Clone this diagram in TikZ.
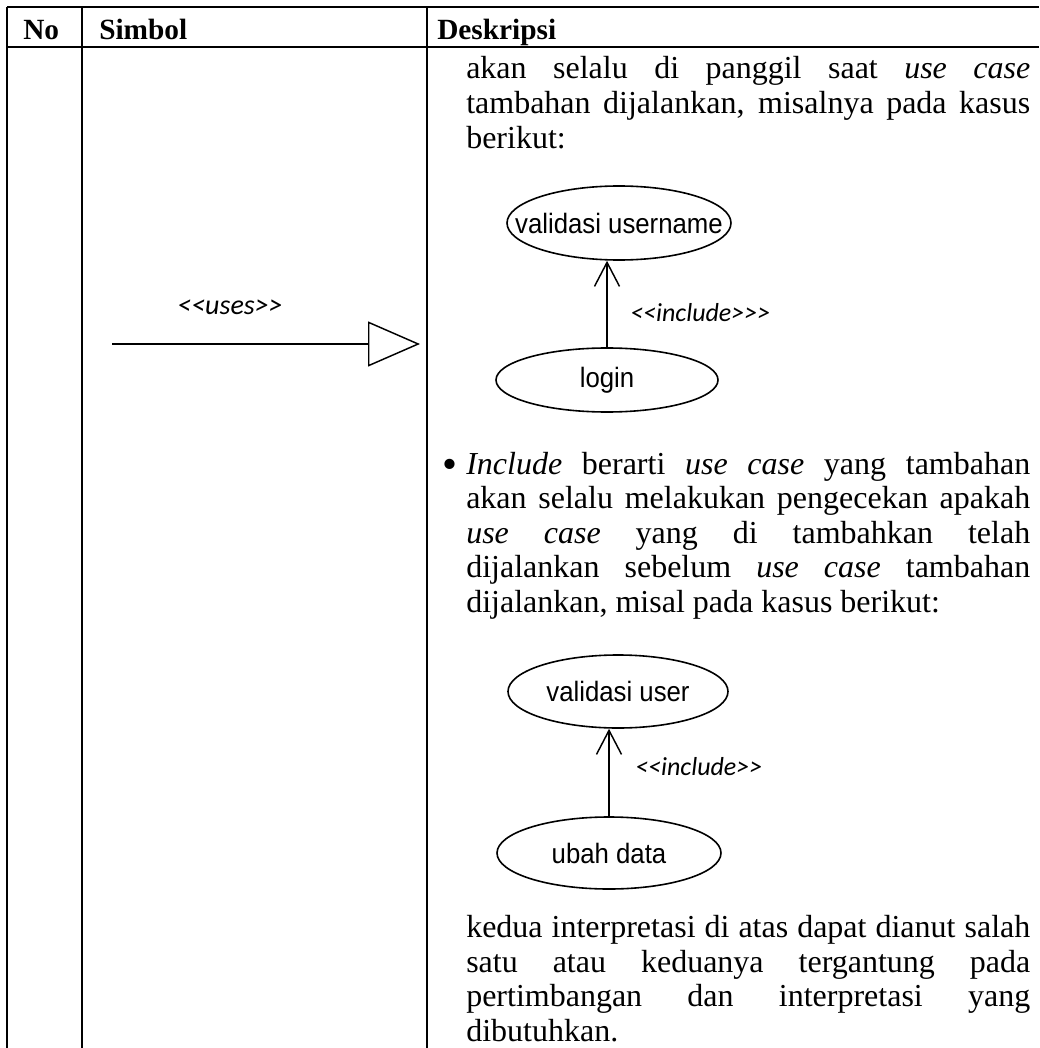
\documentclass[tikz,border=0pt]{standalone}
\usepackage{fontspec}
\setmainfont{Liberation Serif}
\newfontfamily\casefont{Liberation Sans}[FakeStretch=0.92]
\newfontfamily\stereofont{Carlito}
\usetikzlibrary{arrows.meta,shapes.geometric}
\newdimen\px \px=0.75pt
\newcommand{\uclabel}[1]{\makebox[0pt]{#1}}
\tikzset{
  tableline/.style={line width=2\px},
  hdr/.style={font=\fontsize{22pt}{25.9pt}\selectfont\bfseries, inner sep=0, anchor=base west},
  desk/.style={font=\fontsize{24pt}{25.9pt}\selectfont, inner sep=0, anchor=base west,
    text width=564\px, align=justify},
  usecase/.style={ellipse, draw, line width=1.6\px, inner sep=0,
    font=\casefont\fontsize{21pt}{24pt}\selectfont},
  stereo/.style={font=\stereofont\itshape\fontsize{19.5pt}{22pt}\selectfont, inner sep=0},
  inclarrow/.style={line width=1.5\px, -{Straight Barb[length=18pt, width=18.75pt, line width=1.1pt]}},
  usesarrow/.style={line width=1.5\px, -{Triangle[open, length=39pt, width=33.75pt, line width=1.1pt]}}
}
\begin{document}
\begin{tikzpicture}[x=0.75pt, y=-0.75pt]
\useasboundingbox (0,0) rectangle (1039,1048);
% table
\draw[tableline] (7,7) -- (1039,7);
\draw[tableline] (7,47) -- (1039,47);
\foreach \cx in {7,82,427}
  \draw[tableline] (\cx,7) -- (\cx,1048);
\node[hdr] (hdrNo) at (23,40) {No};
\node[hdr] (hdrSimbol) at (99,40) {Simbol};
\node[hdr] (hdrDesk) at (437,40) {Deskripsi};
% simbol
\coordinate (usesStart) at (112,344);
\coordinate (usesTip) at (420,344);
\draw[usesarrow] (usesStart) -- (usesTip);
\node[stereo, font=\stereofont\itshape\fontsize{21pt}{24pt}\selectfont] (usesLbl) at (230,307) {<<uses>>};
% deskripsi
\node[desk] (deskA) at (466,79) {\hyphenpenalty=10000\tolerance=10000
  akan selalu di panggil saat \textit{use case}\linebreak
  tambahan dijalankan, misalnya pada kasus\linebreak
  berikut:};
\node[usecase, minimum width=224\px, minimum height=74\px] (valName) at (619,223) {\uclabel{validasi username}};
\node[usecase, minimum width=222\px, minimum height=64\px] (login) at (607,380) {\uclabel{login}};
\draw[inclarrow] (login.north) -- (login.north |- valName.south);
\node[stereo, anchor=west] (inclA) at (630,313) {<<include>>>};
\node[desk] (deskB) at (466,474) {\hyphenpenalty=10000\tolerance=10000
  \noindent\llap{\raisebox{-3pt}{\fontsize{32pt}{32pt}\selectfont\textbullet}\hspace{7pt}}\textit{Include} berarti \textit{use case} yang tambahan\linebreak
  akan selalu melakukan pengecekan apakah\linebreak
  \textit{use case} yang di tambahkan telah\linebreak
  dijalankan sebelum \textit{use case} tambahan\linebreak
  dijalankan, misal pada kasus berikut:};
\node[usecase, minimum width=220\px, minimum height=73\px] (valUser) at (618,691.5) {\uclabel{validasi user}};
\node[usecase, minimum width=224\px, minimum height=72\px] (ubahData) at (609,853) {\uclabel{ubah data}};
\draw[inclarrow] (ubahData.north) -- (ubahData.north |- valUser.south);
\node[stereo, anchor=west] (inclB) at (635,767) {<<include>>};
\node[desk] (deskC) at (466,937.5) {\hyphenpenalty=10000\tolerance=10000
  kedua interpretasi di atas dapat dianut salah\linebreak
  satu atau keduanya tergantung pada\linebreak
  pertimbangan dan interpretasi yang\linebreak
  dibutuhkan.};
\end{tikzpicture}
\end{document}
